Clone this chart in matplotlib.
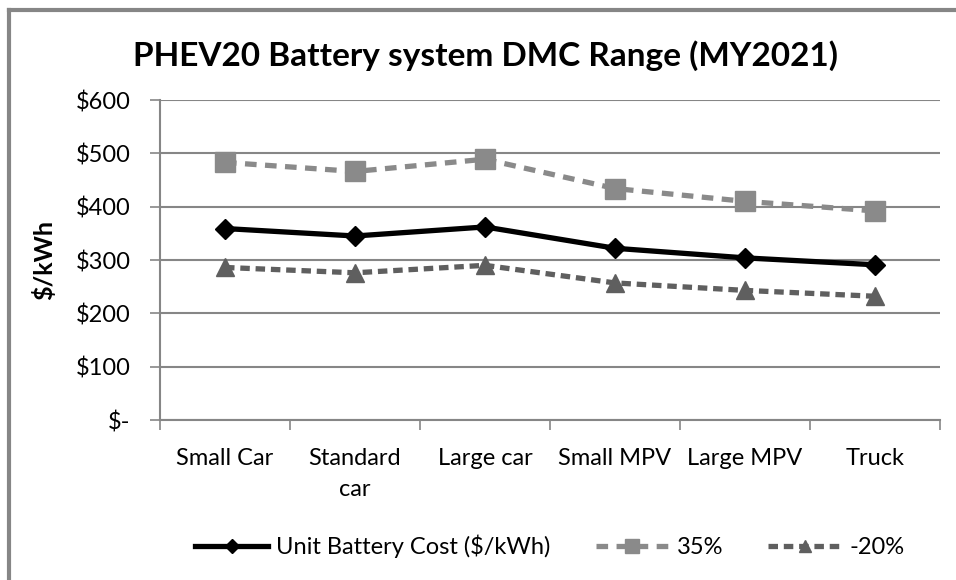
import numpy as np
import matplotlib
matplotlib.use("Agg")
import matplotlib.pyplot as plt
from matplotlib.lines import Line2D

categories = ["Small Car", "Standard\ncar", "Large car", "Small MPV", "Large MPV", "Truck"]
unit_cost = [359, 345, 362, 322, 304, 291]
plus35 = [483, 466, 489, 434, 410, 392]
minus20 = [286, 276, 290, 257, 243, 232]
yticks = [0, 100, 200, 300, 400, 500, 600]
ytick_labels = ["$-", "$100", "$200", "$300", "$400", "$500", "$600"]

plt.rcParams['font.family'] = ['Lato', 'DejaVu Sans']

fig = plt.figure(figsize=(9.56, 5.8), dpi=100)
ax = fig.add_axes([160/956, 1-420/580, 780/956, 320/580])

x = np.arange(len(categories))
ax.plot(x, unit_cost, color="black", lw=3.8, marker="D", ms=10, label="Unit Battery Cost ($/kWh)", zorder=4)
ax.plot(x, plus35, color="#8a8a8a", lw=3.8, ls=(0, (2.2, 1.6)), marker="s", ms=14, label="35%", zorder=3)
ax.plot(x, minus20, color="#5f5f5f", lw=3.8, ls=(0, (1.8, 1.1)), marker="^", ms=13, label="-20%", zorder=3)

ax.set_xlim(-0.5, len(categories) - 0.5)
ax.set_ylim(0, 600)
ax.set_yticks(yticks)
ax.set_yticklabels(ytick_labels, fontsize=17)
ax.set_xticks(x)
ax.set_xticklabels(categories, fontsize=17, linespacing=1.6)
ax.set_xticks(np.arange(-0.5, len(categories)), minor=True)
ax.tick_params(axis="x", which="major", length=0, pad=20)
ax.tick_params(axis="x", which="minor", length=7, color="#868686", width=1.2, direction="out")
ax.tick_params(axis="y", length=7, color="#868686", width=1.2, pad=14)
ax.grid(axis="y", color="#868686", lw=1.5)
ax.set_axisbelow(True)
for s in ["top", "right"]:
    ax.spines[s].set_visible(False)
ax.spines["left"].set_color("#868686")
ax.spines["left"].set_linewidth(1.5)
ax.spines["bottom"].set_color("#868686")
ax.spines["bottom"].set_linewidth(1.5)
ax.set_ylabel("$/kWh", fontsize=18, fontweight="bold", labelpad=14)

fig.suptitle("PHEV20 Battery system DMC Range (MY2021)", fontsize=24, fontweight="bold", x=0.508, y=0.93)

leg = ax.legend(loc="center", bbox_to_anchor=(0.5, -0.395), ncol=3, frameon=False,
                fontsize=17, handlelength=3.1, columnspacing=1.9, handletextpad=0.35, markerscale=0.7)

fig.add_artist(Line2D([9/956, 9/956], [0, 1-10/580], color="#868686", lw=3))
fig.add_artist(Line2D([9/956, 1], [1-10/580, 1-10/580], color="#868686", lw=3))

fig.savefig("out.png", dpi=100)
